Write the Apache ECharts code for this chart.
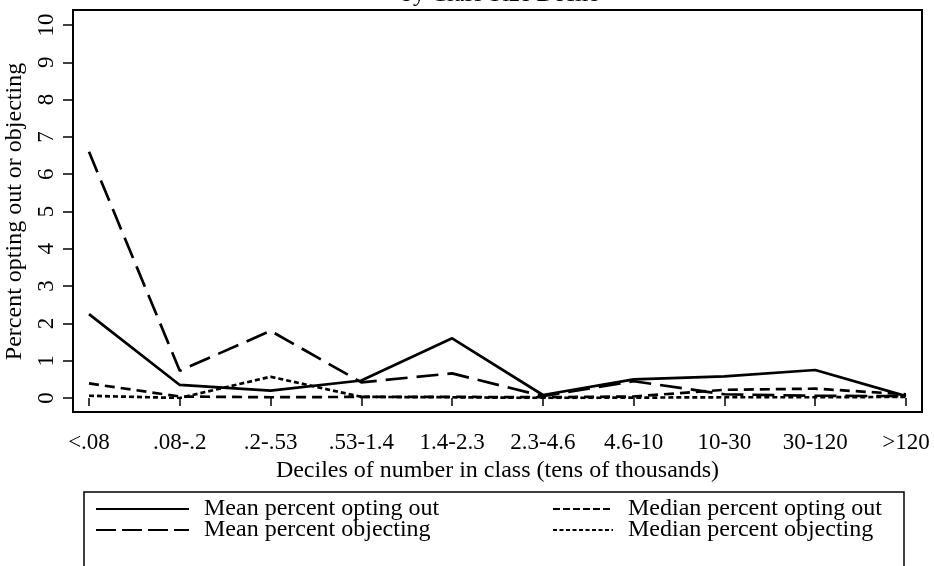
<!DOCTYPE html>
<html>
<head>
<meta charset="utf-8">
<script src="https://cdn.jsdelivr.net/npm/echarts@6/dist/echarts.min.js"></script>
<style>
  html, body { margin: 0; padding: 0; background: #fff; }
  #chart { width: 934px; height: 566px; }
</style>
</head>
<body>
<div id="chart"></div>
<script>
// Deciles of class size (tens of thousands)
const categories = ['<.08', '.08-.2', '.2-.53', '.53-1.4', '1.4-2.3', '2.3-4.6', '4.6-10', '10-30', '30-120', '>120'];

// Values (percent)
const meanOptOut = [2.25, 0.35, 0.2, 0.47, 1.6, 0.08, 0.5, 0.58, 0.75, 0.05];
const meanObject = [6.6, 0.73, 1.8, 0.42, 0.66, 0.05, 0.45, 0.1, 0.06, 0.05];
const medianOptOut = [0.39, 0.04, 0.02, 0.03, 0.03, 0.02, 0.04, 0.22, 0.25, 0.1];
const medianObject = [0.06, 0.0, 0.57, 0.03, 0.02, 0.0, 0.01, 0.02, 0.02, 0.03];

const yTicks = [0, 1, 2, 3, 4, 5, 6, 7, 8, 9, 10];

const FONT = 'Liberation Serif';
const chart = echarts.init(document.getElementById('chart'));

const lineSeries = (name, data, dash) => ({
  name: name,
  type: 'line',
  xAxisIndex: 1,
  yAxisIndex: 1,
  data: data,
  symbol: 'none',
  lineStyle: { color: '#000', width: 2.7, type: dash },
  itemStyle: { color: '#000' }
});

// one legend per entry so the 2x2 layout can be placed like the original
const legendItem = (name, left, top, width, dash) => ({
  data: [name],
  left: left,
  top: top,
  itemWidth: width,
  itemHeight: 14,
  padding: 0,
  itemStyle: { opacity: 0 },
  lineStyle: dash ? { type: dash } : {},
  textStyle: { fontFamily: FONT, fontSize: 24, color: '#000', padding: [0, 0, 0, 10] }
});

chart.setOption({
  animation: false,
  backgroundColor: '#fff',
  title: {
    text: 'by Class Size Decile',
    left: 500,
    textAlign: 'center',
    top: -17,
    padding: 0,
    textStyle: { fontFamily: FONT, fontSize: 24, fontWeight: 'normal', color: '#000' }
  },
  grid: [
    // plot frame
    { left: 73, top: 10, width: 849, height: 402, show: true, borderColor: '#000', borderWidth: 2,
      backgroundColor: 'transparent', outerBoundsMode: 'none' },
    // data area
    { left: 89, top: 25, right: 28, bottom: 168, outerBoundsMode: 'none' }
  ],
  xAxis: [
    { gridIndex: 0, type: 'value', show: false },
    {
      gridIndex: 1,
      type: 'category',
      data: categories,
      boundaryGap: false,
      offset: 14,
      axisLine: { show: false },
      axisTick: { show: true, length: 8, lineStyle: { color: '#000', width: 1.5 } },
      axisLabel: { color: '#000', fontFamily: FONT, fontSize: 23, margin: 19, interval: 0 },
      splitLine: { show: false },
      name: 'Deciles of number in class (tens of thousands)',
      nameLocation: 'middle',
      nameGap: 42,
      nameTextStyle: { fontFamily: FONT, fontSize: 24, color: '#000' }
    }
  ],
  yAxis: [
    { gridIndex: 0, type: 'value', show: false },
    {
      gridIndex: 1,
      type: 'value',
      min: yTicks[0],
      max: yTicks[yTicks.length - 1],
      interval: 1,
      offset: 16,
      axisLine: { show: false },
      axisTick: { show: true, length: 10, lineStyle: { color: '#000', width: 1.5 } },
      axisLabel: { color: '#000', fontFamily: FONT, fontSize: 23, rotate: 90, margin: 15 },
      splitLine: { show: false },
      name: 'Percent opting out or objecting',
      nameLocation: 'middle',
      nameRotate: 90,
      nameGap: 38,
      nameTextStyle: { fontFamily: FONT, fontSize: 24, color: '#000' }
    }
  ],
  legend: [
    legendItem('Mean percent opting out', 95, 497, 93),
    legendItem('Median percent opting out', 552, 497, 60, [7, 3]),
    legendItem('Mean percent objecting', 95, 518, 93, [20, 6]),
    legendItem('Median percent objecting', 552, 518, 60, [4, 2.5])
  ],
  graphic: [
    {
      type: 'rect',
      shape: { x: 84, y: 492, width: 820, height: 80 },
      style: { fill: 'none', stroke: '#000', lineWidth: 1.5 }
    }
  ],
  series: [
    lineSeries('Mean percent opting out', meanOptOut, 'solid'),
    lineSeries('Median percent opting out', medianOptOut, [10, 6]),
    lineSeries('Mean percent objecting', meanObject, [22, 9]),
    lineSeries('Median percent objecting', medianObject, [5, 3])
  ]
});
</script>
</body>
</html>
